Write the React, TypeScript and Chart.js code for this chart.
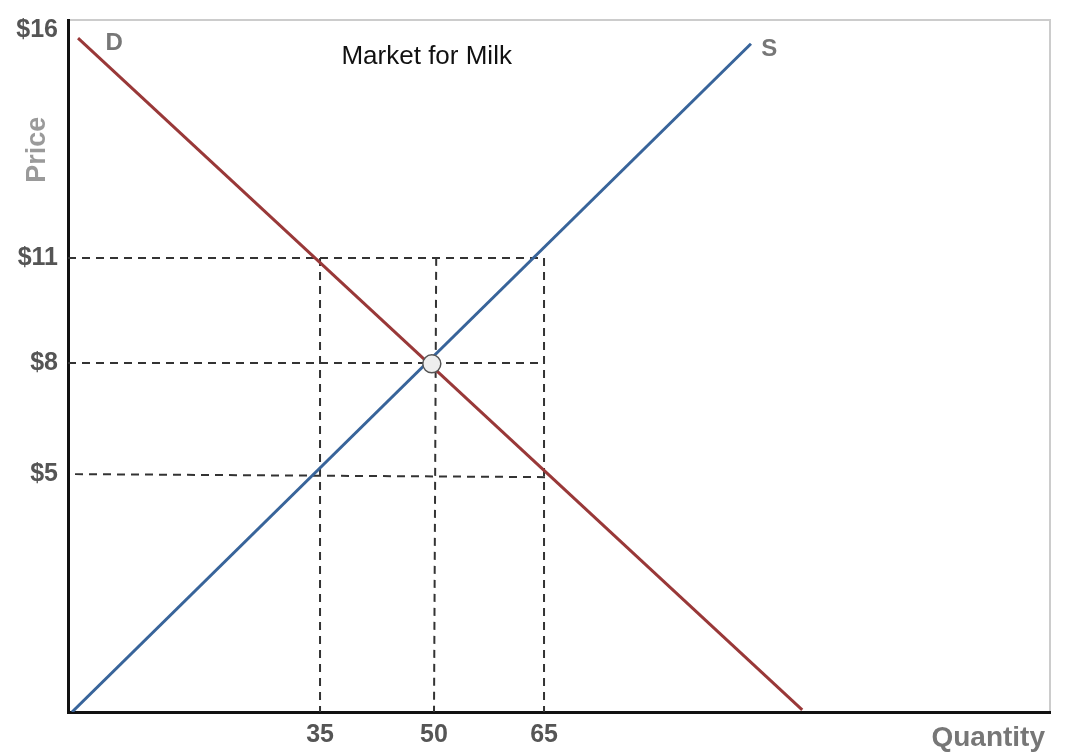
import React, { useEffect, useRef } from "react";
import { Chart, registerables } from "chart.js";

Chart.register(...registerables);

// Axis ranges (diagram units)
const xMin = 0;
const xMax = 134.15;
const yMin = 0;
const yMax = 16;

// Tick positions and labels
const xTickValues = [34.43, 50.0, 65.03];
const xTickLabels = ["35", "50", "65"];
const yTickValues = [5.5, 8.07, 10.5, 15.77];
const yTickLabels = ["$5", "$8", "$11", "$16"];

// Supply and demand curves
const supplyX = [0.55, 93.3];
const supplyY = [0, 15.45];
const demandX = [1.37, 100.3];
const demandY = [15.58, 0.05];

// Equilibrium point
const equilibriumX = [49.7];
const equilibriumY = [8.05];

// Horizontal dashed guides (start / end)
const hGuideX0 = [0, 0, 0.96];
const hGuideX1 = [64.9, 64.9, 65.6];
const hGuideY0 = [10.5, 8.07, 5.5];
const hGuideY1 = [10.5, 8.07, 5.43];

// Vertical dashed guides (top / bottom)
const vGuideXTop = [34.43, 50.3, 65.03];
const vGuideXBottom = [34.43, 50.0, 65.03];
const vGuideTop = [10.5, 10.5, 10.5];
const vGuideBottom = [0, 0, 0];

// Text annotations
const titleText = "Market for Milk";
const titlePos = [49.0, 15.14];
const demandLabel = "D";
const demandLabelPos = [6.3, 15.45];
const supplyLabel = "S";
const supplyLabelPos = [95.8, 15.33];
const xAxisTitle = "Quantity";
const yAxisTitle = "Price";

const FONT = "'Liberation Sans', Arial, Helvetica, sans-serif";

const zip = (xs: number[], ys: number[]) => xs.map((x, i) => ({ x, y: ys[i] }));

export default function App() {
  const ref = useRef<HTMLCanvasElement | null>(null);

  useEffect(() => {
    if (!ref.current) return;

    const dashStyle = {
      borderColor: "#333333",
      borderWidth: 2,
      borderDash: [8, 6],
      pointRadius: 0,
      showLine: true,
      fill: false,
      order: 3,
    };

    const guides: any[] = [];
    hGuideX0.forEach((_, i) => {
      guides.push({
        ...dashStyle,
        label: "h" + i,
        data: [
          { x: hGuideX0[i], y: hGuideY0[i] },
          { x: hGuideX1[i], y: hGuideY1[i] },
        ],
      });
    });
    vGuideXTop.forEach((_, i) => {
      guides.push({
        ...dashStyle,
        label: "v" + i,
        data: [
          { x: vGuideXTop[i], y: vGuideTop[i] },
          { x: vGuideXBottom[i], y: vGuideBottom[i] },
        ],
      });
    });

    const framePlugin = {
      id: "frame",
      beforeDraw(chart: any) {
        const { ctx, chartArea } = chart;
        ctx.save();
        ctx.strokeStyle = "#cccccc";
        ctx.lineWidth = 2;
        ctx.strokeRect(
          chartArea.left,
          chartArea.top,
          chartArea.right - chartArea.left,
          chartArea.bottom - chartArea.top
        );
        ctx.restore();
      },
    };

    const textPlugin = {
      id: "texts",
      afterDraw(chart: any) {
        const { ctx, chartArea } = chart;
        const xs = chart.scales.x;
        const ys = chart.scales.y;
        ctx.save();
        ctx.textBaseline = "middle";
        ctx.textAlign = "center";

        ctx.fillStyle = "#111111";
        ctx.font = `26px ${FONT}`;
        ctx.fillText(titleText, xs.getPixelForValue(titlePos[0]), ys.getPixelForValue(titlePos[1]));

        ctx.fillStyle = "#777777";
        ctx.font = `bold 24px ${FONT}`;
        ctx.fillText(demandLabel, xs.getPixelForValue(demandLabelPos[0]), ys.getPixelForValue(demandLabelPos[1]));
        ctx.fillText(supplyLabel, xs.getPixelForValue(supplyLabelPos[0]), ys.getPixelForValue(supplyLabelPos[1]));

        ctx.fillStyle = "#777777";
        ctx.font = `bold 28px ${FONT}`;
        ctx.textAlign = "right";
        ctx.fillText(xAxisTitle, chartArea.right - 5, chartArea.bottom + 26);

        ctx.fillStyle = "#9a9a9a";
        ctx.font = `bold 27px ${FONT}`;
        ctx.textAlign = "center";
        ctx.translate(chartArea.left - 30, ys.getPixelForValue(13.0));
        ctx.rotate(-Math.PI / 2);
        ctx.fillText(yAxisTitle, 0, 0);
        ctx.restore();
      },
    };

    const chart = new Chart(ref.current, {
      type: "scatter",
      data: {
        datasets: [
          ...guides,
          {
            label: "Demand",
            data: zip(demandX, demandY),
            showLine: true,
            borderColor: "#993838",
            borderWidth: 3,
            pointRadius: 0,
            fill: false,
            order: 2,
          },
          {
            label: "Supply",
            data: zip(supplyX, supplyY),
            showLine: true,
            borderColor: "#38649a",
            borderWidth: 3,
            pointRadius: 0,
            fill: false,
            order: 1,
          },
          {
            label: "Equilibrium",
            data: zip(equilibriumX, equilibriumY),
            pointRadius: 9,
            pointHoverRadius: 9,
            pointBackgroundColor: "#eeeeee",
            pointBorderColor: "#555555",
            pointBorderWidth: 1.5,
            showLine: false,
            order: 0,
          },
        ],
      },
      options: {
        responsive: false,
        animation: false,
        devicePixelRatio: 1,
        layout: { padding: { top: 20, right: 23, left: 0, bottom: 0 } },
        plugins: {
          legend: { display: false },
          tooltip: { enabled: false },
          title: { display: false },
        },
        scales: {
          x: {
            type: "linear",
            min: xMin,
            max: xMax,
            afterFit(scale: any) {
              scale.height = 43;
              scale.paddingLeft = 0;
              scale.paddingRight = 0;
            },
            afterBuildTicks(scale: any) {
              scale.ticks = xTickValues.map((v) => ({ value: v }));
            },
            grid: { display: false, drawTicks: false },
            border: { display: true, color: "#111111", width: 3 },
            ticks: {
              autoSkip: false,
              maxRotation: 0,
              padding: 8,
              color: "#555555",
              font: { family: FONT, size: 25, weight: "bold" },
              callback: (_v: any, i: number) => xTickLabels[i],
            },
          },
          y: {
            type: "linear",
            min: yMin,
            max: yMax,
            afterFit(scale: any) {
              scale.width = 68;
              scale.paddingTop = 0;
              scale.paddingBottom = 0;
            },
            afterBuildTicks(scale: any) {
              scale.ticks = yTickValues.map((v) => ({ value: v }));
            },
            grid: { display: false, drawTicks: false },
            border: { display: true, color: "#111111", width: 3 },
            ticks: {
              autoSkip: false,
              padding: 10,
              color: "#555555",
              font: { family: FONT, size: 25, weight: "bold" },
              callback: (_v: any, i: number) => yTickLabels[i],
            },
          },
        },
      },
      plugins: [framePlugin, textPlugin],
    } as any);

    return () => chart.destroy();
  }, []);

  return (
    <div style={{ position: "absolute", left: 0, top: 0, width: 1073, height: 755, background: "#ffffff" }}>
      <canvas ref={ref} width={1073} height={755} />
    </div>
  );
}
